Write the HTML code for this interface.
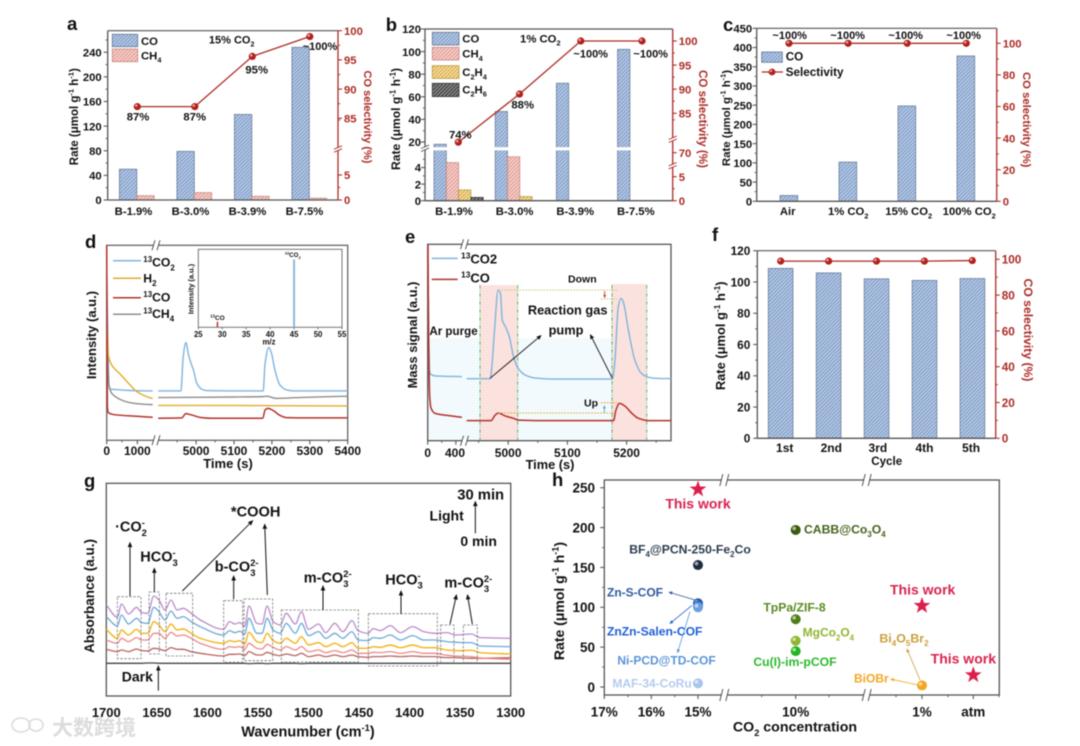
<!DOCTYPE html>
<html lang="en">
<head>
<meta charset="utf-8">
<title>Photocatalytic CO2 reduction figure</title>
<style>
html,body{margin:0;padding:0;background:#fff;width:1080px;height:746px;overflow:hidden}
svg{display:block;filter:blur(0.4px);font-family:"Liberation Sans","Noto Sans CJK SC",sans-serif;font-weight:bold}
</style>
</head>
<body>
<svg id="figure" xmlns="http://www.w3.org/2000/svg" width="1080" height="746" viewBox="0 0 1080 746">
<defs>
<pattern id="hatch-blue" patternUnits="userSpaceOnUse" width="2.6" height="2.6" patternTransform="rotate(45)"><rect width="2.6" height="2.6" fill="#b9cce7"/><rect width="1.05" height="2.6" fill="#7a97c3"/></pattern>
<pattern id="hatch-pink" patternUnits="userSpaceOnUse" width="2.6" height="2.6" patternTransform="rotate(45)"><rect width="2.6" height="2.6" fill="#f8d3cd"/><rect width="1.05" height="2.6" fill="#dc968f"/></pattern>
<pattern id="hatch-yellow" patternUnits="userSpaceOnUse" width="2.6" height="2.6" patternTransform="rotate(45)"><rect width="2.6" height="2.6" fill="#fae0a0"/><rect width="1.05" height="2.6" fill="#cfa548"/></pattern>
<pattern id="hatch-dark" patternUnits="userSpaceOnUse" width="2.6" height="2.6" patternTransform="rotate(45)"><rect width="2.6" height="2.6" fill="#8c8c8c"/><rect width="1.05" height="2.6" fill="#333"/></pattern>
</defs>
</svg>
<script>
/* ---------- panel a data ---------- */
const aCategories = ['B-1.9%','B-3.0%','B-3.9%','B-7.5%'];
const aCO = [50,79,139,248];
const aCH4 = [7,12,6,3];
const aSelectivity = [87,87,95.6,99];
const aLeftTicks = [0,40,80,120,160,200,240];
const aRightTicks = [0,5,85,90,95,100];
/* ---------- panel b data ---------- */
const bCategories = ['B-1.9%','B-3.0%','B-3.9%','B-7.5%'];
const bCO = [18,47,72,102];
const bCH4 = [4.6,5.3,0,0];
const bC2H4 = [1.3,0.5,0,0];
const bC2H6 = [0.4,0,0,0];
const bSelectivity = [74,89,100,100];
const bLeftTicks = [0,2,4,20,40,60,80,100,120];
const bRightTicks = [0,5,70,85,90,95,100];
/* ---------- panel c data ---------- */
const cCategories = ['Air','1% CO_{2}','15% CO_{2}','100% CO_{2}'];
const cCO = [15,102,248,378];
const cSelectivity = [100,100,100,100];
const cLeftTicks = [0,50,100,150,200,250,300,350,400,450];
const cRightTicks = [0,20,40,60,80,100];
/* ---------- panel d data ---------- */
const dCO2Time = [0,40,80,120,300,700,1100,1500,4900,4960,4966,4973,4980,4986,4993,5002,5015,5028,5100,5177,5182,5192,5199,5208,5221,5239,5257,5400];
const dCO2Value = [90,50,27,26.2,26,25.6,25.4,25.3,25.3,25.3,42.9,50.1,43.8,39.8,36.1,29.2,26.2,25.5,25.3,25.3,39.5,47.7,44.6,36,28.4,25.8,25.3,25.3];
const dH2Time = [22,54,163,435,761,978,1304,1500,4900,5150,5400];
const dH2Value = [56.6,43.8,38.6,34,28.4,25,22.4,21.4,17.9,17.8,17.6];
const dCH4Time = [11,43,87,163,435,761,1196,1500,4900,5100,5177,5186,5212,5280,5400];
const dCH4Value = [56,36,27.5,24.1,21,19.3,18.5,18.3,21.9,22.2,22.4,22.6,21.5,22,22.6];
const dCOTime = [0,10,22,54,217,978,1500,4900,4962,4973,4988,5015,5037,5176,5182,5190,5204,5221,5239,5265,5400];
const dCOValue = [100,60,17.3,14.2,13.2,12.3,11.8,11.3,11.5,13.7,13,11.6,11.3,11.3,15.6,16.4,15.2,12.8,11.6,11.5,11.5];
const dInsetMz = [29,45];
const dInsetIntensity = [7,87];
const dInsetTicks = [25,30,35,40,45,50,55];
const dXTicks = [0,1000,5000,5100,5200,5300,5400];
/* ---------- panel e data ---------- */
const eCO2Time = [5,14,24,38,105,486,4930,4970,4972,4977,4983,4987,4990,4996,5002,5009,5017,5029,5046,5074,5176,5180,5186,5191,5195,5203,5214,5225,5237,5254,5275];
const eCO2Value = [90,56.4,36,34,33,32.6,31.6,31.6,36,56.4,76.7,75,61.5,57.7,53,42.8,36.8,33.4,31.9,31.4,31.4,39.4,68.3,72.5,70,56.4,41,34.3,32.3,31.7,31.6];
const eCOTime = [4,12,29,48,105,248,486,4930,4971,4977,4983,4995,5009,5017,5074,5178,5182,5188,5197,5209,5220,5237,5275];
const eCOValue = [99.7,56.4,22.4,16.5,13.9,13,11.9,10.2,10.2,12.6,14.1,12.6,11.4,10.5,10.2,10.2,15.6,19,17.7,13.9,11.4,10.2,10.2];
const eXTicks = [0,400,5000,5100,5200];
/* ---------- panel f data ---------- */
const fCycles = ['1st','2nd','3rd','4th','5th'];
const fRate = [108.7,105.8,102,101,102.2];
const fSelectivity = [99,99,99,99,99.3];
const fLeftTicks = [0,20,40,60,80,100,120];
const fRightTicks = [0,20,40,60,80,100];
/* ---------- panel g data ---------- */
const gWavenumber = [1700,1689,1685,1678,1670,1665,1659,1653,1648,1642,1636,1630,1624,1616,1607,1584,1578,1573,1568,1563,1559,1551,1546,1541,1535,1528,1522,1513,1507,1500,1490,1483,1474,1466,1457,1451,1441,1436,1429,1419,1409,1397,1386,1375,1363,1355,1339,1330,1300];
const gPurple = [273,236,276,246,266,250,248,300,288,258,288,258,263,248,228,200,223,216,220,210,270,218,216,270,223,213,248,216,253,200,216,190,218,193,226,196,188,202,196,211,190,208,193,188,190,183,186,175,173];
const gBlue = [238,210,243,216,233,220,218,266,253,228,255,233,238,223,208,183,196,190,194,186,233,188,188,233,198,188,218,188,218,181,193,173,188,173,193,168,166,175,173,183,168,181,168,168,163,161,160,150,148];
const gYellow = [200,173,198,183,200,188,188,223,213,193,216,198,201,188,173,158,166,163,166,156,191,163,160,188,166,158,173,158,178,153,160,148,158,148,160,143,143,148,146,153,145,153,145,145,138,136,137,130,126];
const gPink = [168,158,173,163,175,168,168,188,188,173,191,180,183,173,158,140,148,146,148,140,158,143,141,155,146,138,148,138,148,133,138,130,136,130,138,128,128,131,130,133,128,133,128,128,122,120,118,114,110];
const gBrown = [140,133,138,133,141,136,135,143,141,136,145,140,140,133,128,120,125,125,126,121,133,123,123,131,125,121,126,121,128,118,123,118,123,118,123,118,116,118,118,120,118,120,118,118,115,115,113,113,115];
const gDark = [98,98,98,98,98,98,99,99,98,98,98,98,98,98,98,98,98,98,98,98,97,98,98,97,98,98,98,98,97,98,98,98,98,98,98,98,98,98,98,98,98,98,98,98,98,98,98,98,98];
const gXTicks = [1700,1650,1600,1550,1500,1450,1400,1350,1300];
/* ---------- panel h data ---------- */
const hNames = ['maf-34-coru','bf4-pcn','zn-s-cof','znzn-salen-cof','ni-pcd-td-cof','cabb-co3o4','tppa-zif-8','mgco2o4','cu-im-pcof','biobr'];
const hConcentration = [15,15,15,15,15,10,10,10,10,1];
const hRate = [4.6,153,105,102,100,197,85,58,45,2];
const hColors = ['#a9c4ea','#1f2d3d','#2b5aa0','#2a66d8','#6aa0dc','#3c5a10','#4f7d1a','#8fb52e','#22b522','#f5a623'];
const hStarConcentration = [15,1,0];
const hStarRate = [248,102,15];
const hYTicks = [0,50,100,150,200,250];
const hXTickValues = [17,16,15,10,1,0];
const hXTickLabels = ['17%','16%','15%','10%','1%','atm'];

/* ---------- helpers ---------- */
const SVGNS = 'http://www.w3.org/2000/svg';
const root = document.getElementById('figure');
const RED = '#ac2c26', INK = '#111', AX = '#555', TS = 11.3, LETTER = 18.5;

function mk(tag, attrs, parent, name) {
  const node = document.createElementNS(SVGNS, tag);
  for (const k in attrs) node.setAttribute(k, attrs[k]);
  
  
  parent.appendChild(node);
  return node;
}
function group(name, parent) { return mk('g', {}, parent || root, name); }
function line(g, x1, y1, x2, y2, color, w, name, extra) {
  return mk('line', Object.assign({x1, y1, x2, y2, stroke: color, 'stroke-width': w}, extra || {}), g, name);
}
function text(g, x, y, str, o, name) {
  o = o || {};
  const size = o.size || TS;
  const attrs = {x, y, 'font-size': size, fill: o.fill || INK, 'text-anchor': o.anchor || 'start'};
  if (o.rot) attrs.transform = 'rotate(' + o.rot + ' ' + x + ' ' + y + ')';
  if (o.family) attrs['font-family'] = o.family;
  const t = mk('text', attrs, g, name);
  const parts = str.match(/_\{[^}]*\}|\^\{[^}]*\}|[^_^]+/g) || [];
  let shift = 0, prevSubLen = 0;
  parts.forEach(function (p) {
    const ts = document.createElementNS(SVGNS, 'tspan');
    let content = p, target = 0, small = false;
    if (p[0] === '_' && p[1] === '{') { content = p.slice(2, -1); target = size * 0.3; small = true; }
    else if (p[0] === '^' && p[1] === '{') { content = p.slice(2, -1); target = -size * 0.38; small = true; }
    if (small) ts.setAttribute('font-size', size * 0.65);
    if (target !== shift) ts.setAttribute('dy', target - shift);
    if (prevSubLen && p[0] === '^') ts.setAttribute('dx', -0.36 * size * prevSubLen);
    prevSubLen = (p[0] === '_') ? content.length : 0;
    shift = target;
    ts.textContent = content;
    t.appendChild(ts);
  });
  return t;
}
function pw(dom, rng) {
  return function (v) {
    for (let i = 0; i < dom.length - 1; i++) {
      const a = dom[i], b = dom[i + 1];
      if ((v >= Math.min(a, b) && v <= Math.max(a, b)) || i === dom.length - 2) {
        return rng[i] + (v - a) / (b - a) * (rng[i + 1] - rng[i]);
      }
    }
    return rng[0];
  };
}
function yAxis(g, o) {
  line(g, o.x, o.y0, o.x, o.y1, o.color, 1.3, o.name + '-line');
  o.major.forEach(function (v) {
    const y = o.scale(v);
    line(g, o.x, y, o.x + o.dir * 4, y, o.color, 1.1, o.name + '-tick');
    text(g, o.x + o.dir * o.gap, y + o.size * 0.37, String(v), {size: o.size, fill: o.color === AX ? INK : o.color, anchor: o.dir < 0 ? 'end' : 'start'}, o.name + '-label');
  });
  (o.minor || []).forEach(function (v) {
    const y = o.scale(v);
    line(g, o.x, y, o.x + o.dir * 2.2, y, o.color, 0.9, o.name + '-minor-tick');
  });
}
function axisBreak(g, x, y, color, name) {
  mk('rect', {x: x - 4, y: y - 1.6, width: 8, height: 3.2, fill: '#fff'}, g, name + '-gap');
  line(g, x - 4, y + 0.2, x + 4, y - 3.2, color, 0.9, name + '-slash');
  line(g, x - 4, y + 3.2, x + 4, y - 0.2, color, 0.9, name + '-slash');
}
function xBreak(g, x, y, name, spread, rise) {
  const s = spread || 2.5, r = rise || 5;
  mk('rect', {x: x - s, y: y - 1.5, width: 2 * s, height: 3, fill: '#fff'}, g, name + '-gap');
  line(g, x - s - 1.5, y + r, x - s + 1.5, y - r, '#444', 0.9, name + '-slash');
  line(g, x + s - 1.5, y + r, x + s + 1.5, y - r, '#444', 0.9, name + '-slash');
}
function bar(g, x, w, y, base, pat, stroke, name) {
  return mk('rect', {x, y, width: w, height: Math.max(0, base - y), fill: 'url(#' + pat + ')', stroke, 'stroke-width': 0.8, 'stroke-opacity': 0.9}, g, name);
}
function sphere(g, x, y, r, color, name) {
  mk('circle', {cx: x, cy: y, r, fill: color}, g, name);
  mk('circle', {cx: x - r * 0.3, cy: y - r * 0.3, r: r * 0.36, fill: '#fff', 'fill-opacity': 0.6}, g, name + '-highlight');
}
function star(g, cx, cy, R, color, name) {
  let pts = '';
  for (let i = 0; i < 10; i++) {
    const rad = i % 2 ? R * 0.4 : R, a = -Math.PI / 2 + i * Math.PI / 5;
    pts += (cx + rad * Math.cos(a)).toFixed(2) + ',' + (cy + rad * Math.sin(a)).toFixed(2) + ' ';
  }
  mk('polygon', {points: pts, fill: color}, g, name);
}
function arrow(g, x1, y1, x2, y2, color, w, head, name) {
  const a = Math.atan2(y2 - y1, x2 - x1), h = head || 5;
  const bx = x2 - h * Math.cos(a), by = y2 - h * Math.sin(a);
  line(g, x1, y1, bx, by, color, w, name + '-shaft');
  const px = -Math.sin(a) * h * 0.42, py = Math.cos(a) * h * 0.42;
  mk('polygon', {points: x2 + ',' + y2 + ' ' + (bx + px) + ',' + (by + py) + ' ' + (bx - px) + ',' + (by - py), fill: color}, g, name + '-head');
}
function monotonePath(p) {
  if (p.length < 2) return '';
  const n = p.length, d = [], m = new Array(n);
  for (let i = 0; i < n - 1; i++) d.push((p[i + 1][1] - p[i][1]) / ((p[i + 1][0] - p[i][0]) || 1e-6));
  m[0] = d[0]; m[n - 1] = d[n - 2];
  for (let i = 1; i < n - 1; i++) m[i] = d[i - 1] * d[i] <= 0 ? 0 : 2 * d[i - 1] * d[i] / (d[i - 1] + d[i]);
  let s = 'M' + p[0][0].toFixed(2) + ' ' + p[0][1].toFixed(2);
  for (let i = 0; i < n - 1; i++) {
    const h = (p[i + 1][0] - p[i][0]) / 3;
    s += 'C' + (p[i][0] + h).toFixed(2) + ' ' + (p[i][1] + m[i] * h).toFixed(2) + ' ' +
      (p[i + 1][0] - h).toFixed(2) + ' ' + (p[i + 1][1] - m[i + 1] * h).toFixed(2) + ' ' +
      p[i + 1][0].toFixed(2) + ' ' + p[i + 1][1].toFixed(2);
  }
  return s;
}
function curve(g, xs, ys, sx, sy, breakAt, color, w, name) {
  let seg = [];
  const segs = [seg];
  xs.forEach(function (t, i) {
    if (breakAt !== null && i > 0 && xs[i - 1] < breakAt && t >= breakAt) { seg = []; segs.push(seg); }
    seg.push([sx(t), sy(ys[i])]);
  });
  segs.forEach(function (s) {
    mk('path', {d: monotonePath(s), fill: 'none', stroke: color, 'stroke-width': w, 'stroke-linejoin': 'round'}, g, name);
  });
}
function polyLine(g, xs, ys, color, w, name) {
  let pts = '';
  xs.forEach(function (x, i) { pts += x.toFixed(2) + ',' + ys[i].toFixed(2) + ' '; });
  mk('polyline', {points: pts, fill: 'none', stroke: color, 'stroke-width': w}, g, name);
}
const RATE = 'Rate (μmol g^{-1} h^{-1})';
const SEL = 'CO selectivity (%)';
function swatch(g, x, y, w, h, pat, stroke, name) {
  mk('rect', {x, y, width: w, height: h, fill: 'url(#' + pat + ')', stroke, 'stroke-width': 0.8}, g, name);
}
const BLUE_EDGE = '#5f7594', PINK_EDGE = '#c9857f';

/* ---------- panel a ---------- */
(function () {
  const g = group('panel-a');
  const L = 107.7, R = 338, T = 30.7, B = 200;
  const yL = pw([0, 275], [B, T]);
  const yR = pw([0, 5, 85, 100], [B, 175, 118.3, T]);
  text(g, 67, 30, 'a', {size: LETTER, fill: '#111'}, 'panel-letter-a');
  line(g, L, T, R, T, AX, 1.2, 'a-top-frame');
  aCategories.forEach(function (c, i) {
    const mid = 136.8 + i * 57.5;
    bar(g, mid - 17.4, 17.4, yL(aCO[i]), B, 'hatch-blue', BLUE_EDGE, 'a-bar-co-' + c);
    bar(g, mid, 17.4, yL(aCH4[i]), B, 'hatch-pink', PINK_EDGE, 'a-bar-ch4-' + c);
    text(g, 133.5 + i * 57, 215, c, {anchor: 'middle'}, 'a-x-label');
  });
  line(g, L, B, R, B, AX, 1.3, 'a-x-axis');
  yAxis(g, {x: L, y0: T, y1: B, scale: yL, major: aLeftTicks, minor: [20,60,100,140,180,220,260], dir: -1, color: AX, gap: 6, size: TS, name: 'a-left-axis'});
  yAxis(g, {x: R, y0: T, y1: B, scale: yR, major: aRightTicks, minor: [2.5,82.5,87.5,92.5,97.5], dir: 1, color: RED, gap: 6, size: TS, name: 'a-right-axis'});
  axisBreak(g, R, 149, RED, 'a-right-break');
  const lx = aSelectivity.map(function (v, i) { return 137.3 + i * 57.5; });
  polyLine(g, lx, aSelectivity.map(yR), RED, 1.3, 'a-selectivity-line');
  aSelectivity.forEach(function (v, i) { sphere(g, lx[i], yR(v), 3.6, '#b3201b', 'a-selectivity-point'); });
  text(g, 138, 120.7, '87%', {anchor: 'middle'}, 'a-value-label');
  text(g, 194.7, 120.7, '87%', {anchor: 'middle'}, 'a-value-label');
  text(g, 256.7, 73.3, '95%', {anchor: 'middle'}, 'a-value-label');
  text(g, 320, 50, '~100%', {anchor: 'middle', size: 11}, 'a-value-label');
  text(g, 231.7, 43.3, '15% CO_{2}', {anchor: 'middle', size: 11}, 'a-condition-label');
  swatch(g, 112.3, 34.3, 25.4, 12.4, 'hatch-blue', BLUE_EDGE, 'a-legend-co-swatch');
  swatch(g, 112.3, 49, 25.4, 12.7, 'hatch-pink', PINK_EDGE, 'a-legend-ch4-swatch');
  text(g, 141, 45, 'CO', {}, 'a-legend-co');
  text(g, 141, 59.3, 'CH_{4}', {}, 'a-legend-ch4');
  text(g, 78, 116.7, RATE, {anchor: 'middle', rot: -90, size: 11.5}, 'a-y-axis-title');
  text(g, 364, 117, SEL, {anchor: 'middle', rot: 90, size: 11, fill: RED}, 'a-right-axis-title');
})();

/* ---------- panel b ---------- */
(function () {
  const g = group('panel-b');
  const L = 425, R = 672.7, T = 29, B = 200.7;
  const yL = pw([0, 6, 15.5, 120], [B, 151, 147.1, T]);
  const yR = pw([0, 5, 70, 85, 100], [B, 176.7, 152.7, 113.3, 41]);
  text(g, 385.7, 31, 'b', {size: LETTER, fill: '#111'}, 'panel-letter-b');
  line(g, L, T, R, T, AX, 1.2, 'b-top-frame');
  bCategories.forEach(function (c, i) {
    const x0 = 434 + i * 61.2, w = 12.3;
    bar(g, x0, w, yL(bCO[i]), B, 'hatch-blue', BLUE_EDGE, 'b-bar-co-' + c);
    if (bCH4[i] > 0) bar(g, x0 + w, w, yL(bCH4[i]), B, 'hatch-pink', PINK_EDGE, 'b-bar-ch4-' + c);
    if (bC2H4[i] > 0) bar(g, x0 + 2 * w, w, yL(bC2H4[i]), B, 'hatch-yellow', '#b8963e', 'b-bar-c2h4-' + c);
    if (bC2H6[i] > 0) bar(g, x0 + 3 * w, w, yL(bC2H6[i]), B, 'hatch-dark', '#333', 'b-bar-c2h6-' + c);
    text(g, 454 + i * 60.6, 215, c, {anchor: 'middle'}, 'b-x-label');
  });
  mk('rect', {x: L + 1, y: 147.2, width: R - L - 2, height: 3.2, fill: '#fff'}, g, 'b-axis-break-gap');
  line(g, L, B, R, B, AX, 1.3, 'b-x-axis');
  yAxis(g, {x: L, y0: T, y1: B, scale: yL, major: bLeftTicks, minor: [1,3,5,30,50,70,90,110], dir: -1, color: AX, gap: 4, size: TS, name: 'b-left-axis'});
  yAxis(g, {x: R, y0: T, y1: B, scale: yR, major: bRightTicks, minor: [2.5,82.5,87.5,92.5,97.5], dir: 1, color: RED, gap: 6, size: TS, name: 'b-right-axis'});
  axisBreak(g, L, 148.3, AX, 'b-left-break');
  axisBreak(g, R, 139.3, RED, 'b-right-break-upper');
  axisBreak(g, R, 165.7, RED, 'b-right-break-lower');
  const lx = bSelectivity.map(function (v, i) { return 458.3 + i * 61.25; });
  polyLine(g, lx, bSelectivity.map(yR), RED, 1.3, 'b-selectivity-line');
  bSelectivity.forEach(function (v, i) { sphere(g, lx[i], yR(v), 3.6, '#b3201b', 'b-selectivity-point'); });
  text(g, 460.3, 138.3, '74%', {anchor: 'middle'}, 'b-value-label');
  text(g, 522.7, 108.3, '88%', {anchor: 'middle'}, 'b-value-label');
  text(g, 590.7, 57.3, '~100%', {anchor: 'middle', size: 11}, 'b-value-label');
  text(g, 650.7, 57.3, '~100%', {anchor: 'middle', size: 11}, 'b-value-label');
  text(g, 540.3, 42.3, '1% CO_{2}', {anchor: 'middle'}, 'b-condition-label');
  swatch(g, 432.3, 32.3, 26.7, 12.7, 'hatch-blue', BLUE_EDGE, 'b-legend-co-swatch');
  swatch(g, 432.3, 47.3, 26.7, 12.7, 'hatch-pink', PINK_EDGE, 'b-legend-ch4-swatch');
  swatch(g, 432.3, 65.7, 26.7, 12.7, 'hatch-yellow', '#b8963e', 'b-legend-c2h4-swatch');
  swatch(g, 432.3, 83.3, 26.7, 13.3, 'hatch-dark', '#333', 'b-legend-c2h6-swatch');
  text(g, 462.3, 42.3, 'CO', {}, 'b-legend-co');
  text(g, 462.3, 57.7, 'CH_{4}', {}, 'b-legend-ch4');
  text(g, 462.3, 76, 'C_{2}H_{4}', {}, 'b-legend-c2h4');
  text(g, 462.3, 93.3, 'C_{2}H_{6}', {}, 'b-legend-c2h6');
  text(g, 400, 119, RATE, {anchor: 'middle', rot: -90, size: 12.1}, 'b-y-axis-title');
  text(g, 699, 119, SEL, {anchor: 'middle', rot: 90, size: 11.6, fill: RED}, 'b-right-axis-title');
})();

/* ---------- panel c ---------- */
(function () {
  const g = group('panel-c');
  const L = 756.7, R = 996.7, T = 28.3, B = 201.3;
  const yL = pw([0, 450], [B, T]);
  const yR = pw([0, 100], [B, 43.3]);
  text(g, 723, 31, 'c', {size: LETTER, fill: '#111'}, 'panel-letter-c');
  line(g, L, T, R, T, AX, 1.2, 'c-top-frame');
  cCategories.forEach(function (c, i) {
    bar(g, 780 + i * 59, 17.7, yL(cCO[i]), B, 'hatch-blue', BLUE_EDGE, 'c-bar-co');
    text(g, 787.7 + i * 60.5, 215, c, {anchor: 'middle'}, 'c-x-label');
  });
  line(g, L, B, R, B, AX, 1.3, 'c-x-axis');
  yAxis(g, {x: L, y0: T, y1: B, scale: yL, major: cLeftTicks, minor: [25,75,125,175,225,275,325,375,425], dir: -1, color: AX, gap: 4.5, size: TS, name: 'c-left-axis'});
  yAxis(g, {x: R, y0: T, y1: B, scale: yR, major: cRightTicks, minor: [10,30,50,70,90], dir: 1, color: RED, gap: 6, size: TS, name: 'c-right-axis'});
  const lx = cSelectivity.map(function (v, i) { return 789 + i * 59.1; });
  polyLine(g, lx, cSelectivity.map(yR), RED, 1.3, 'c-selectivity-line');
  cSelectivity.forEach(function (v, i) {
    sphere(g, lx[i], yR(v), 3.6, '#b3201b', 'c-selectivity-point');
    text(g, 789.7 + i * 58, 39, '~100%', {anchor: 'middle', size: 11}, 'c-value-label');
  });
  swatch(g, 761.7, 52, 20.6, 10.3, 'hatch-blue', BLUE_EDGE, 'c-legend-co-swatch');
  text(g, 785.7, 60.5, 'CO', {size: 11.7}, 'c-legend-co');
  line(g, 761.7, 72, 783, 72, RED, 1.3, 'c-legend-selectivity-line');
  sphere(g, 772, 72, 3.4, '#b3201b', 'c-legend-selectivity-marker');
  text(g, 785.7, 76, 'Selectivity', {size: 11.7}, 'c-legend-selectivity');
  text(g, 730, 118, RATE, {anchor: 'middle', rot: -90, size: 11.4}, 'c-y-axis-title');
  text(g, 1023, 119.7, SEL, {anchor: 'middle', rot: 90, size: 11.3, fill: RED}, 'c-right-axis-title');
})();

/* ---------- panel d ---------- */
(function () {
  const g = group('panel-d');
  const L = 106.7, R = 347.7, T = 245.3, B = 440.3;
  const sx = pw([0, 1500, 4900, 5400], [L, 152.7, 158.2, R]);
  const sy = pw([0, 100], [B, T]);
  text(g, 85, 248, 'd', {size: LETTER, fill: '#111'}, 'panel-letter-d');
  mk('rect', {x: L, y: T, width: R - L, height: B - T, fill: 'none', stroke: '#666', 'stroke-width': 1.3}, g, 'd-frame');
  dXTicks.forEach(function (t) {
    line(g, sx(t), B, sx(t), B + 4, AX, 1.1, 'd-x-tick');
    text(g, sx(t), 455, String(t), {anchor: 'middle', size: 12}, 'd-x-label');
  });
  [500, 4950, 5050, 5150, 5250, 5350].forEach(function (t) { line(g, sx(t), B, sx(t), B + 2.2, AX, 0.9, 'd-x-minor-tick'); });
  curve(g, dCO2Time, dCO2Value, sx, sy, 4900, '#7fb3de', 1.4, 'd-line-13co2');
  curve(g, dCH4Time, dCH4Value, sx, sy, 4900, '#8e8e8e', 1.4, 'd-line-13ch4');
  curve(g, dH2Time, dH2Value, sx, sy, 4900, '#e2ab2c', 1.4, 'd-line-h2');
  curve(g, dCOTime, dCOValue, sx, sy, 4900, '#b4322b', 1.5, 'd-line-13co');
  xBreak(g, 156, T, 'd-top-break');
  xBreak(g, 156, B, 'd-bottom-break');
  const ig = group('d-inset', g);
  const ix = pw([25, 55], [198.3, 342]), iy = pw([0, 100], [327.3, 249.3]);
  mk('rect', {x: 198.3, y: 249.3, width: 143.7, height: 78, fill: '#fff', stroke: '#666', 'stroke-width': 0.9}, ig, 'd-inset-frame');
  dInsetTicks.forEach(function (v) {
    line(ig, ix(v), 327.3, ix(v), 329.5, AX, 0.7, 'd-inset-tick');
    text(ig, ix(v), 337, String(v), {anchor: 'middle', size: 7.8}, 'd-inset-x-label');
  });
  ['#b4322b', '#7fb3de'].forEach(function (col, i) {
    const w = i ? 1.8 : 1.5;
    line(ig, ix(dInsetMz[i]), 327.3, ix(dInsetMz[i]), iy(dInsetIntensity[i]), col, w, 'd-inset-peak');
  });
  text(ig, 217.5, 320, '^{13}CO', {anchor: 'middle', size: 6.5}, 'd-inset-peak-label');
  text(ig, 292.7, 257, '^{13}CO_{2}', {anchor: 'middle', size: 6.2}, 'd-inset-peak-label');
  text(ig, 269, 344.5, 'm/z', {anchor: 'middle', size: 7.8}, 'd-inset-x-title');
  text(ig, 193.5, 289, 'Intensity (a.u.)', {anchor: 'middle', size: 7.4, rot: -90}, 'd-inset-y-title');
  [['#7fb3de', 260.7, 266.7, '^{13}CO_{2}', '13co2'], ['#e2ab2c', 278.3, 282.5, 'H_{2}', 'h2'], ['#b4322b', 297.7, 301.7, '^{13}CO', '13co'], ['#8e8e8e', 314.3, 318, '^{13}CH_{4}', '13ch4']].forEach(function (e) {
    line(g, 113, e[1], 141, e[1], e[0], 1.5, 'd-legend-line-' + e[4]);
    text(g, 143.3, e[2], e[3], {size: 12.2}, 'd-legend-' + e[4]);
  });
  text(g, 96, 335, 'Intensity (a.u.)', {anchor: 'middle', rot: -90, size: 13}, 'd-y-axis-title');
  text(g, 228, 468, 'Time (s)', {anchor: 'middle', size: 13}, 'd-x-axis-title');
})();

/* ---------- panel e ---------- */
(function () {
  const g = group('panel-e');
  const L = 427.7, R = 671, T = 244.3, B = 440.7;
  const sx = pw([0, 520, 4930, 5275], [L, 464.3, 466.7, R]);
  const sy = pw([0, 100], [B, T]);
  const Z = function (a, b) { return [385 + a / 3, 230 + b / 3]; };
  text(g, 405, 243, 'e', {size: LETTER, fill: '#111'}, 'panel-letter-e');
  mk('rect', {x: L, y: 338.3, width: 52.3, height: B - 338.3, fill: '#f2fafd'}, g, 'e-ar-purge-band');
  mk('rect', {x: 517.7, y: 338.3, width: 94, height: B - 338.3, fill: '#f2fafd'}, g, 'e-ar-purge-band');
  mk('rect', {x: 480, y: 285, width: 37.7, height: B - 285, fill: '#fce2de'}, g, 'e-reaction-band');
  mk('rect', {x: 611.7, y: 284, width: 35, height: B - 284, fill: '#fce2de'}, g, 'e-reaction-band');
  [480, 517.7, 612, 646.7].forEach(function (x) {
    line(g, x, 285, x, B, '#5fb670', 1, 'e-boundary-line', {'stroke-dasharray': '4 1.5 1 1.5'});
  });
  mk('rect', {x: L, y: T, width: R - L, height: B - T, fill: 'none', stroke: '#555', 'stroke-width': 1.3}, g, 'e-frame');
  eXTicks.forEach(function (t) {
    line(g, sx(t), B, sx(t), B + 4, AX, 1.1, 'e-x-tick');
    text(g, t === 400 ? 455 : sx(t), 457, String(t), {anchor: 'middle', size: 12}, 'e-x-label');
  });
  [200, 4950, 5050, 5150, 5250].forEach(function (t) { line(g, sx(t), B, sx(t), B + 2.2, AX, 0.9, 'e-x-minor-tick'); });
  curve(g, eCO2Time, eCO2Value, sx, sy, 4930, '#7fb3de', 1.4, 'e-line-13co2');
  curve(g, eCOTime, eCOValue, sx, sy, 4930, '#b4322b', 1.5, 'e-line-13co');
  xBreak(g, 464.5, T, 'e-top-break');
  xBreak(g, 464.5, B, 'e-bottom-break');
  let a = Z(340, 180), b = Z(700, 180);
  line(g, a[0], a[1], b[0], b[1], '#c9c26a', 1, 'e-down-guide-upper', {'stroke-dasharray': '1.5 1.5'});
  a = Z(648, 207); b = Z(696, 207);
  line(g, a[0], a[1], b[0], b[1], '#c9c26a', 1, 'e-down-guide-lower', {'stroke-dasharray': '1.5 1.5'});
  a = Z(340, 549); b = Z(692, 549);
  line(g, a[0], a[1], b[0], b[1], '#e0a21e', 1.1, 'e-up-guide-lower', {'stroke-dasharray': '1.5 1.5'});
  a = Z(648, 518); b = Z(696, 518);
  line(g, a[0], a[1], b[0], b[1], '#e0a21e', 1.1, 'e-up-guide-upper', {'stroke-dasharray': '1.5 1.5'});
  a = Z(659, 183); b = Z(659, 205);
  arrow(g, a[0], a[1], b[0], b[1], '#c8352d', 0.9, 3.5, 'e-down-arrow');
  a = Z(658, 548); b = Z(658, 525);
  arrow(g, a[0], a[1], b[0], b[1], '#5f9fd6', 0.9, 3.5, 'e-up-arrow');
  a = Z(315, 445); b = Z(470, 315);
  arrow(g, a[0], a[1], b[0], b[1], '#111', 0.9, 5, 'e-pump-arrow-left');
  a = Z(682, 445); b = Z(615, 312);
  arrow(g, a[0], a[1], b[0], b[1], '#111', 0.9, 5, 'e-pump-arrow-right');
  text(g, Z(592, 0)[0], Z(0, 157)[1], 'Down', {anchor: 'middle', size: 10.5}, 'e-down-label');
  text(g, Z(548, 0)[0], Z(0, 253)[1], 'Reaction gas', {anchor: 'middle', size: 12.8}, 'e-reaction-gas-label');
  text(g, Z(543, 0)[0], Z(0, 313)[1], 'pump', {anchor: 'middle', size: 12.8}, 'e-pump-label');
  text(g, Z(133, 0)[0], Z(0, 315)[1], 'Ar purge', {size: 11.6}, 'e-ar-purge-label');
  text(g, Z(618, 0)[0], Z(0, 530)[1], 'Up', {anchor: 'middle', size: 10.5}, 'e-up-label');
  a = Z(140, 85); b = Z(218, 85);
  line(g, a[0], a[1], b[0], b[1], '#7fb3de', 1.5, 'e-legend-line-13co2');
  a = Z(140, 148); b = Z(218, 148);
  line(g, a[0], a[1], b[0], b[1], '#b4322b', 1.5, 'e-legend-line-13co');
  text(g, Z(228, 0)[0], Z(0, 100)[1], '^{13}CO2', {size: 13}, 'e-legend-13co2');
  text(g, Z(228, 0)[0], Z(0, 158)[1], '^{13}CO', {size: 13}, 'e-legend-13co');
  text(g, 417, 335, 'Mass signal (a.u.)', {anchor: 'middle', rot: -90, size: 12.8}, 'e-y-axis-title');
  text(g, 550, 469, 'Time (s)', {anchor: 'middle', size: 12.8}, 'e-x-axis-title');
})();

/* ---------- panel f ---------- */
(function () {
  const g = group('panel-f');
  const L = 757.3, R = 995.7, T = 250.7, B = 438.3;
  const yL = pw([0, 120], [B, T]);
  const yR = pw([0, 100], [B, 259.3]);
  text(g, 712, 241, 'f', {size: LETTER, fill: '#111'}, 'panel-letter-f');
  line(g, L, T, R, T, AX, 1.2, 'f-top-frame');
  fCycles.forEach(function (c, i) {
    bar(g, 768.3 + i * 47.95, 24.7, yL(fRate[i]), B, 'hatch-blue', BLUE_EDGE, 'f-bar-rate-' + c);
    text(g, 784.7 + i * 46.6, 452, c, {size: 12, anchor: 'middle'}, 'f-x-label');
  });
  line(g, L, B, R, B, AX, 1.3, 'f-x-axis');
  yAxis(g, {x: L, y0: T, y1: B, scale: yL, major: fLeftTicks, minor: [10,30,50,70,90,110], dir: -1, color: AX, gap: 7, size: 11.8, name: 'f-left-axis'});
  yAxis(g, {x: R, y0: T, y1: B, scale: yR, major: fRightTicks, minor: [10,30,50,70,90], dir: 1, color: RED, gap: 6, size: 11.8, name: 'f-right-axis'});
  const lx = fSelectivity.map(function (v, i) { return 780.7 + i * 47.9; });
  polyLine(g, lx, fSelectivity.map(yR), RED, 1.3, 'f-selectivity-line');
  fSelectivity.forEach(function (v, i) { sphere(g, lx[i], yR(v), 3.6, '#b3201b', 'f-selectivity-point'); });
  text(g, 886.7, 465, 'Cycle', {anchor: 'middle', size: 11.6}, 'f-x-axis-title');
  text(g, 725, 335.8, RATE, {anchor: 'middle', rot: -90, size: 12.9}, 'f-y-axis-title');
  text(g, 1024, 330, SEL, {anchor: 'middle', rot: 90, size: 12.2, fill: RED}, 'f-right-axis-title');
})();

/* ---------- panel g ---------- */
(function () {
  const g = group('panel-g');
  const L = 106.3, R = 510.7, T = 483.3, B = 696;
  const sx = pw([1700, 1300], [L, R]);
  const sy = pw([0, 638], [B, T]);
  const Z = function (a, b) { return [60 + a / 3, 470 + b / 3]; };
  text(g, 84, 487, 'g', {size: LETTER, fill: '#111'}, 'panel-letter-g');
  mk('rect', {x: L, y: T, width: R - L, height: B - T, fill: 'none', stroke: '#555', 'stroke-width': 1.3}, g, 'g-frame');
  gXTicks.forEach(function (t) { text(g, sx(t), 717, String(t), {anchor: 'middle', size: 13}, 'g-x-label'); });
  const neg = gWavenumber.map(function (v) { return -v; });
  const nx = function (v) { return sx(-v); };
  curve(g, neg, gBrown, nx, sy, null, '#b9645e', 1.3, 'g-line-brown');
  curve(g, neg, gPink, nx, sy, null, '#ee8888', 1.3, 'g-line-pink');
  curve(g, neg, gYellow, nx, sy, null, '#f3b31b', 1.4, 'g-line-yellow');
  curve(g, neg, gBlue, nx, sy, null, '#6ba9d9', 1.3, 'g-line-blue');
  curve(g, neg, gPurple, nx, sy, null, '#ba8bca', 1.3, 'g-line-purple');
  curve(g, neg, gDark, nx, sy, null, '#444', 1.3, 'g-line-dark');
  [[172,380,243,566],[267,366,298,552],[318,370,398,558],[491,392,548,577],[552,387,638,572],[664,420,895,576],[925,431,1132,588],[1142,465,1182,578],[1210,465,1252,578]].forEach(function (b) {
    const p = Z(b[0], b[1]);
    mk('rect', {x: p[0], y: p[1], width: (b[2] - b[0]) / 3, height: (b[3] - b[1]) / 3, fill: 'none', stroke: '#777', 'stroke-width': 0.8, 'stroke-dasharray': '2.5 1.5'}, g, 'g-band-box');
  });
  [[210,378,210,215],[283,366,283,292],[521,388,521,315],[622,375,614,160],[789,420,789,345],[1023,432,1023,360],[1170,462,1190,372],[1237,462,1222,372],[1246,190,1246,92],[295,662,295,585]].forEach(function (v) {
    const p = Z(v[0], v[1]), q = Z(v[2], v[3]);
    arrow(g, p[0], p[1], q[0], q[1], '#111', 1, 5.5, 'g-annotation-arrow');
  });
  const p0 = Z(367, 363), q0 = Z(580, 150);
  arrow(g, p0[0], p0[1], q0[0], q0[1], '#111', 0.9, 5.5, 'g-cooh-arrow');
  const zt = function (cx, by, s, size, name) { const p = Z(cx, by); text(g, p[0], p[1], s, {anchor: 'middle', size: size || 14.5}, name); };
  zt(213, 185, '·CO_{2}^{-}', 14.5, 'g-label-co2-radical');
  zt(297, 275, 'HCO_{3}^{-}', 14.5, 'g-label-hco3');
  zt(587, 140, '*COOH', 14.6, 'g-label-cooh');
  zt(530, 305, 'b-CO_{3}^{2-}', 14.5, 'g-label-b-co3');
  zt(803, 338, 'm-CO_{3}^{2-}', 14.5, 'g-label-m-co3');
  zt(1032, 343, 'HCO_{3}^{-}', 14.5, 'g-label-hco3');
  zt(1225, 353, 'm-CO_{3}^{2-}', 14.5, 'g-label-m-co3');
  zt(1262, 88, '30 min', 14.8, 'g-label-30-min');
  zt(1160, 152, 'Light', 14, 'g-label-light');
  zt(1256, 228, '0 min', 14, 'g-label-0-min');
  zt(232, 635, 'Dark', 14, 'g-label-dark');
  text(g, 94, 596, 'Absorbance (a.u.)', {anchor: 'middle', rot: -90, size: 13.5}, 'g-y-axis-title');
  text(g, 308, 736.5, 'Wavenumber (cm^{-1})', {anchor: 'middle', size: 14.5}, 'g-x-axis-title');
})();

/* ---------- panel h ---------- */
(function () {
  const g = group('panel-h');
  const L = 604.3, R = 999.3, T = 480, B = 695;
  const sx = pw([17, 16, 15, 10, 1, 0], [L, 651.3, 698, 795.7, 922, 973.3]);
  const sy = pw([0, 250], [687, 487.7]);
  const Z = function (a, b) { return [540 + a / 3, 470 + b / 3]; };
  text(g, 552, 486, 'h', {size: LETTER, fill: '#111'}, 'panel-letter-h');
  mk('rect', {x: L, y: T, width: R - L, height: B - T, fill: 'none', stroke: '#555', 'stroke-width': 1.3}, g, 'h-frame');
  hYTicks.forEach(function (v) {
    line(g, L, sy(v), L - 4, sy(v), AX, 1.1, 'h-y-tick');
    text(g, 595, sy(v) + 4.9, String(v), {anchor: 'end', size: 13.5}, 'h-y-label');
  });
  [25,75,125,175,225].forEach(function (v) { line(g, L, sy(v), L - 2.2, sy(v), AX, 0.9, 'h-y-minor-tick'); });
  hXTickValues.forEach(function (v, i) {
    line(g, sx(v), B, sx(v), B + 4, AX, 1.1, 'h-x-tick');
    text(g, sx(v), 716.7, hXTickLabels[i], {anchor: 'middle', size: 13.5}, 'h-x-label');
  });
  [628,674.7,761.7,829,896,948,999].forEach(function (x) { line(g, x, B, x, B + 2.2, AX, 0.9, 'h-x-minor-tick'); });
  xBreak(g, 724.3, T, 'h-top-break', 3, 6);
  xBreak(g, 724.3, B, 'h-bottom-break', 3, 6);
  xBreak(g, 866.7, T, 'h-top-break', 3, 6);
  xBreak(g, 866.7, B, 'h-bottom-break', 3, 6);
  hRate.forEach(function (v, i) {
    sphere(g, sx(hConcentration[i]), sy(v), 5, hColors[i], 'h-point-' + hNames[i]);
  });
  hStarRate.forEach(function (v, i) { star(g, sx(hStarConcentration[i]), sy(v), 8.8, '#dc1e4d', 'h-star-this-work'); });
  const zt = function (zx, zy, s, col, anchor, size, name) {
    const p = Z(zx, zy);
    text(g, p[0], p[1], s, {anchor, fill: col, size}, name);
  };
  zt(474, 115, 'This work', '#d9234f', 'middle', 14, 'h-label-this-work');
  zt(1148, 373, 'This work', '#d9234f', 'middle', 14, 'h-label-this-work');
  zt(1270, 580, 'This work', '#d9234f', 'middle', 14, 'h-label-this-work');
  zt(792, 190, 'CABB@Co_{3}O_{4}', '#45621a', 'start', 12.2, 'h-label-cabb');
  zt(450, 250, 'BF_{4}@PCN-250-Fe_{2}Co', '#2c3c4e', 'middle', 12.2, 'h-label-bf4-pcn');
  zt(201, 380, 'Zn-S-COF', '#2f5a9e', 'start', 12, 'h-label-zn-s-cof');
  zt(201, 497, 'ZnZn-Salen-COF', '#1f5fd6', 'start', 12.1, 'h-label-znzn-salen-cof');
  zt(232, 584, 'Ni-PCD@TD-COF', '#5a94d8', 'start', 12, 'h-label-ni-pcd');
  zt(217, 652, 'MAF-34-CoRu', '#b4cbee', 'start', 12, 'h-label-maf');
  zt(670, 425, 'TpPa/ZIF-8', '#5a8a20', 'start', 12.2, 'h-label-tppa');
  zt(788, 500, 'MgCo_{2}O_{4}', '#8fb52e', 'start', 12, 'h-label-mgco2o4');
  zt(640, 588, 'Cu(I)-im-pCOF', '#2bb82b', 'start', 12.2, 'h-label-cu-pcof');
  zt(1018, 517, 'Bi_{4}O_{5}Br_{2}', '#c9a03a', 'start', 12.4, 'h-label-bi4o5br2');
  zt(942, 638, 'BiOBr', '#f5a623', 'start', 12, 'h-label-biobr');
  [[465,390,385,366,'#2b5aa0'],[455,407,388,462,'#1f5fd6'],[450,425,412,550,'#5a94d8'],[1135,645,1050,627,'#f5a623'],[1140,630,1100,535,'#c9a03a']].forEach(function (v) {
    const p = Z(v[0], v[1]), q = Z(v[2], v[3]);
    arrow(g, p[0], p[1], q[0], q[1], v[4], 0.8, 4, 'h-leader-arrow');
  });
  text(g, 564, 601, RATE, {anchor: 'middle', rot: -90, size: 14}, 'h-y-axis-title');
  text(g, 795, 731.7, 'CO_{2} concentration', {anchor: 'middle', size: 14.2}, 'h-x-axis-title');
})();

/* ---------- watermark ---------- */
(function () {
  const g = group('watermark');
  mk('ellipse', {cx: 21, cy: 725, rx: 9, ry: 7, fill: 'none', stroke: '#dcdcdc', 'stroke-width': 1.6}, g, 'watermark-icon-ring');
  mk('ellipse', {cx: 36, cy: 725, rx: 7, ry: 6, fill: 'none', stroke: '#dcdcdc', 'stroke-width': 1.6}, g, 'watermark-icon-ring');
  text(g, 52, 735, '大数跨境', {size: 21, fill: '#dcdcdc', family: '"Noto Sans CJK SC","Liberation Sans",sans-serif'}, 'watermark-text');
})();
</script>
</body>
</html>
